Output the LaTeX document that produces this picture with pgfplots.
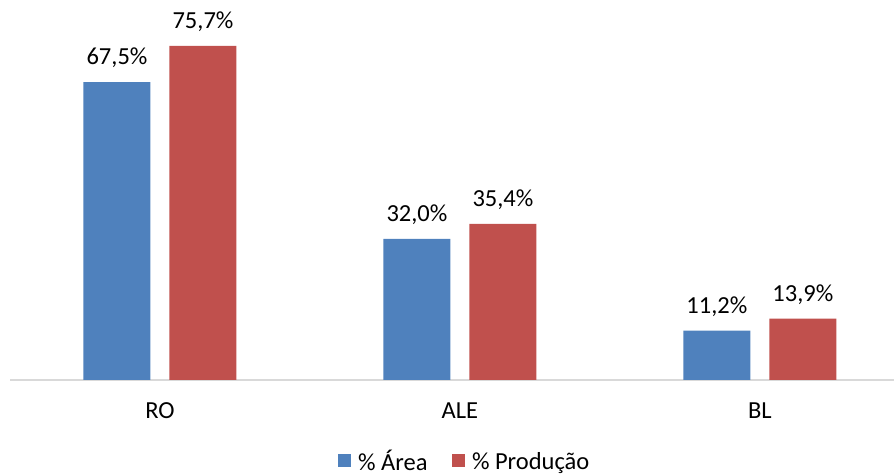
\documentclass[border=0pt]{standalone}
\usepackage{pgfplots}
\pgfplotsset{compat=1.18}
\usepackage{fontspec}
\setmainfont{Carlito}
\definecolor{cblue}{RGB}{79,129,189}
\definecolor{cred}{RGB}{192,80,77}
\definecolor{caxis}{RGB}{217,217,217}
\newcommand{\cf}{\fontsize{24.5pt}{29pt}\selectfont}
\begin{document}
\begin{tikzpicture}[x=1pt,y=1pt]
\useasboundingbox (0,0) rectangle (894,476);
\begin{axis}[
  at={(10pt,96pt)}, anchor=south west,
  scale only axis, width=884pt, height=380pt,
  xmin=-0.5, xmax=2.447, ymin=0, ymax=86.1,
  ybar=19pt, bar width=67pt,
  axis y line=none,
  axis x line*=bottom,
  x axis line style={draw=caxis, line width=1.2pt, -},
  xtick={0,1,2}, xticklabels={RO,ALE,BL},
  major tick length=0pt,
  xticklabel style={font=\cf, yshift=-19pt},
  ytick=\empty,
  /pgf/number format/assume math mode=true,
  nodes near coords={\pgfmathprintnumber[fixed,fixed zerofill,precision=1,use comma,assume math mode=true]{\pgfplotspointmeta}\%},
  every node near coord/.append style={font=\cf, anchor=south, inner sep=0pt, yshift=14pt, text=black},
  legend style={at={(0.513,-0.243)}, anchor=south, draw=none, font=\cf, legend columns=2,
    inner sep=0pt, outer sep=0pt,
    nodes={inner sep=0pt},
    /tikz/every odd column/.append style={column sep=7pt},
    /tikz/every even column/.append style={column sep=24pt}},
  legend image code/.code={\fill[#1] (0pt,-6pt) rectangle (13.5pt,7.5pt);},
  clip=false,
]
\addplot[fill=cblue, draw=none] coordinates {(0,67.5) (1,32.0) (2,11.2)};
\addplot[fill=cred, draw=none] coordinates {(0,75.7) (1,35.4) (2,13.9)};
\legend{\% Área, \% Produção}
\end{axis}
\end{tikzpicture}
\end{document}
